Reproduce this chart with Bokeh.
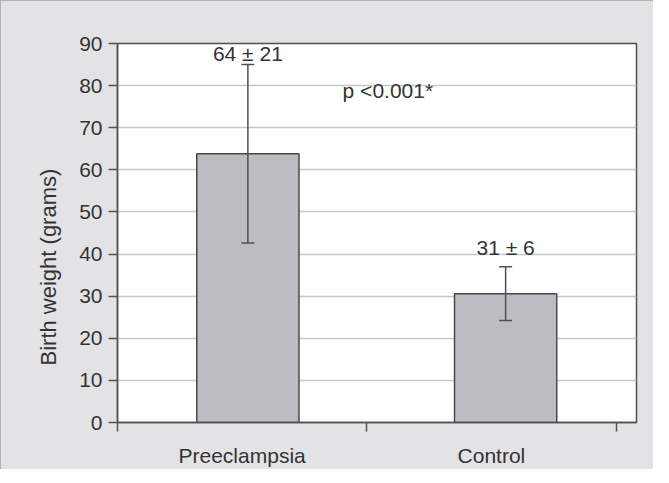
import numpy as np
from bokeh.plotting import figure
from bokeh.models import Range1d, FixedTicker, Label, CustomJSTickFormatter, Title
from bokeh.embed import file_html
from bokeh.resources import INLINE
from bokeh.core.properties import value

# ---- data ----
categories = ["Preeclampsia", "Control"]
means = [63.8, 30.6]
sds = [21.2, 6.4]
value_labels = ["64 ± 21", "31 ± 6"]
p_text = "p <0.001*"
y_ticks = [0, 10, 20, 30, 40, 50, 60, 70, 80, 90]
y_label = "Birth weight (grams)"

# ---- layout / style constants ----
FONT = "Liberation Sans"
TXT = "#333333"
DARK = "#505050"
bar_offset = [0.023, 0.057]
bar_width = 0.41
cap_half = 0.026
label_pad = [2.6, 4.6]

idx = np.arange(len(categories))
xs = idx + 0.5 + np.array(bar_offset)
m = np.array(means)
s = np.array(sds)
upper = m + s
lower = m - s

p = figure(frame_width=519, frame_height=379,
           x_range=Range1d(0, 2.082), y_range=Range1d(0, 90),
           output_backend="svg", toolbar_location=None,
           min_border_left=117, min_border_right=17,
           min_border_top=43, min_border_bottom=45,
           background_fill_color="white", border_fill_color="#e3e3e5")
p.styles = {"outline": "1px solid #a4a4a4", "outline-offset": "-1px"}

p.outline_line_color = DARK
p.outline_line_width = 1.5

# y axis
yax = p.yaxis[0]
yax.ticker = FixedTicker(ticks=y_ticks)
yax.major_tick_in = 0
yax.major_tick_out = 9
yax.minor_tick_line_color = None
yax.axis_line_color = DARK
yax.axis_line_width = 1.5
yax.major_tick_line_color = DARK
yax.major_tick_line_width = 1.5
yax.major_label_text_font = FONT
yax.major_label_text_font_size = "21px"
yax.major_label_text_color = TXT
yax.major_label_standoff = 6

# x axis: labels at category centres, ticks at category boundaries
xax = p.xaxis[0]
xax.ticker = FixedTicker(ticks=list(idx + 0.5), minor_ticks=list(range(len(categories) + 1)))
xax.formatter = CustomJSTickFormatter(args=dict(names=categories),
                                      code="return names[Math.floor(tick)] || '';")
xax.major_tick_in = 0
xax.major_tick_out = 0
xax.minor_tick_in = 0
xax.minor_tick_out = 9
xax.minor_tick_line_color = DARK
xax.minor_tick_line_width = 1.5
xax.axis_line_color = DARK
xax.axis_line_width = 1.5
xax.major_label_text_font = FONT
xax.major_label_text_font_size = "21px"
xax.major_label_text_color = TXT
xax.major_label_standoff = 12

p.xgrid.visible = False
p.ygrid.ticker = FixedTicker(ticks=y_ticks)
p.ygrid.grid_line_color = "#c6c6c6"
p.ygrid.grid_line_width = 1.5

# bars
p.vbar(x=xs, top=m, width=bar_width, bottom=0,
       fill_color="#bcbdc1", line_color="#484848", line_width=1.5)

# error bars
p.segment(x0=xs, y0=lower, x1=xs, y1=upper, line_color=DARK, line_width=1.5)
p.segment(x0=xs - cap_half, y0=upper, x1=xs + cap_half, y1=upper, line_color=DARK, line_width=1.5)
p.segment(x0=xs - cap_half, y0=lower, x1=xs + cap_half, y1=lower, line_color=DARK, line_width=1.5)

# value labels
p.text(x=xs, y=upper + np.array(label_pad), text=value_labels,
       text_align="center", text_baseline="alphabetic",
       text_font=value(FONT), text_font_size="21px", text_color=TXT)

p.add_layout(Label(x=0.903, y=78.9, text=p_text, text_align="left",
                   text_baseline="alphabetic", text_font=FONT,
                   text_font_size="21px", text_color=TXT))

# y-axis title (placed as a side title so it can be shifted along the axis)
p.add_layout(Title(text=y_label, align="left", offset=57, standoff=32,
                   text_font=FONT, text_font_size="22px", text_font_style="normal",
                   text_color=TXT), "left")

open("out.html", "w").write(file_html(p, INLINE))
